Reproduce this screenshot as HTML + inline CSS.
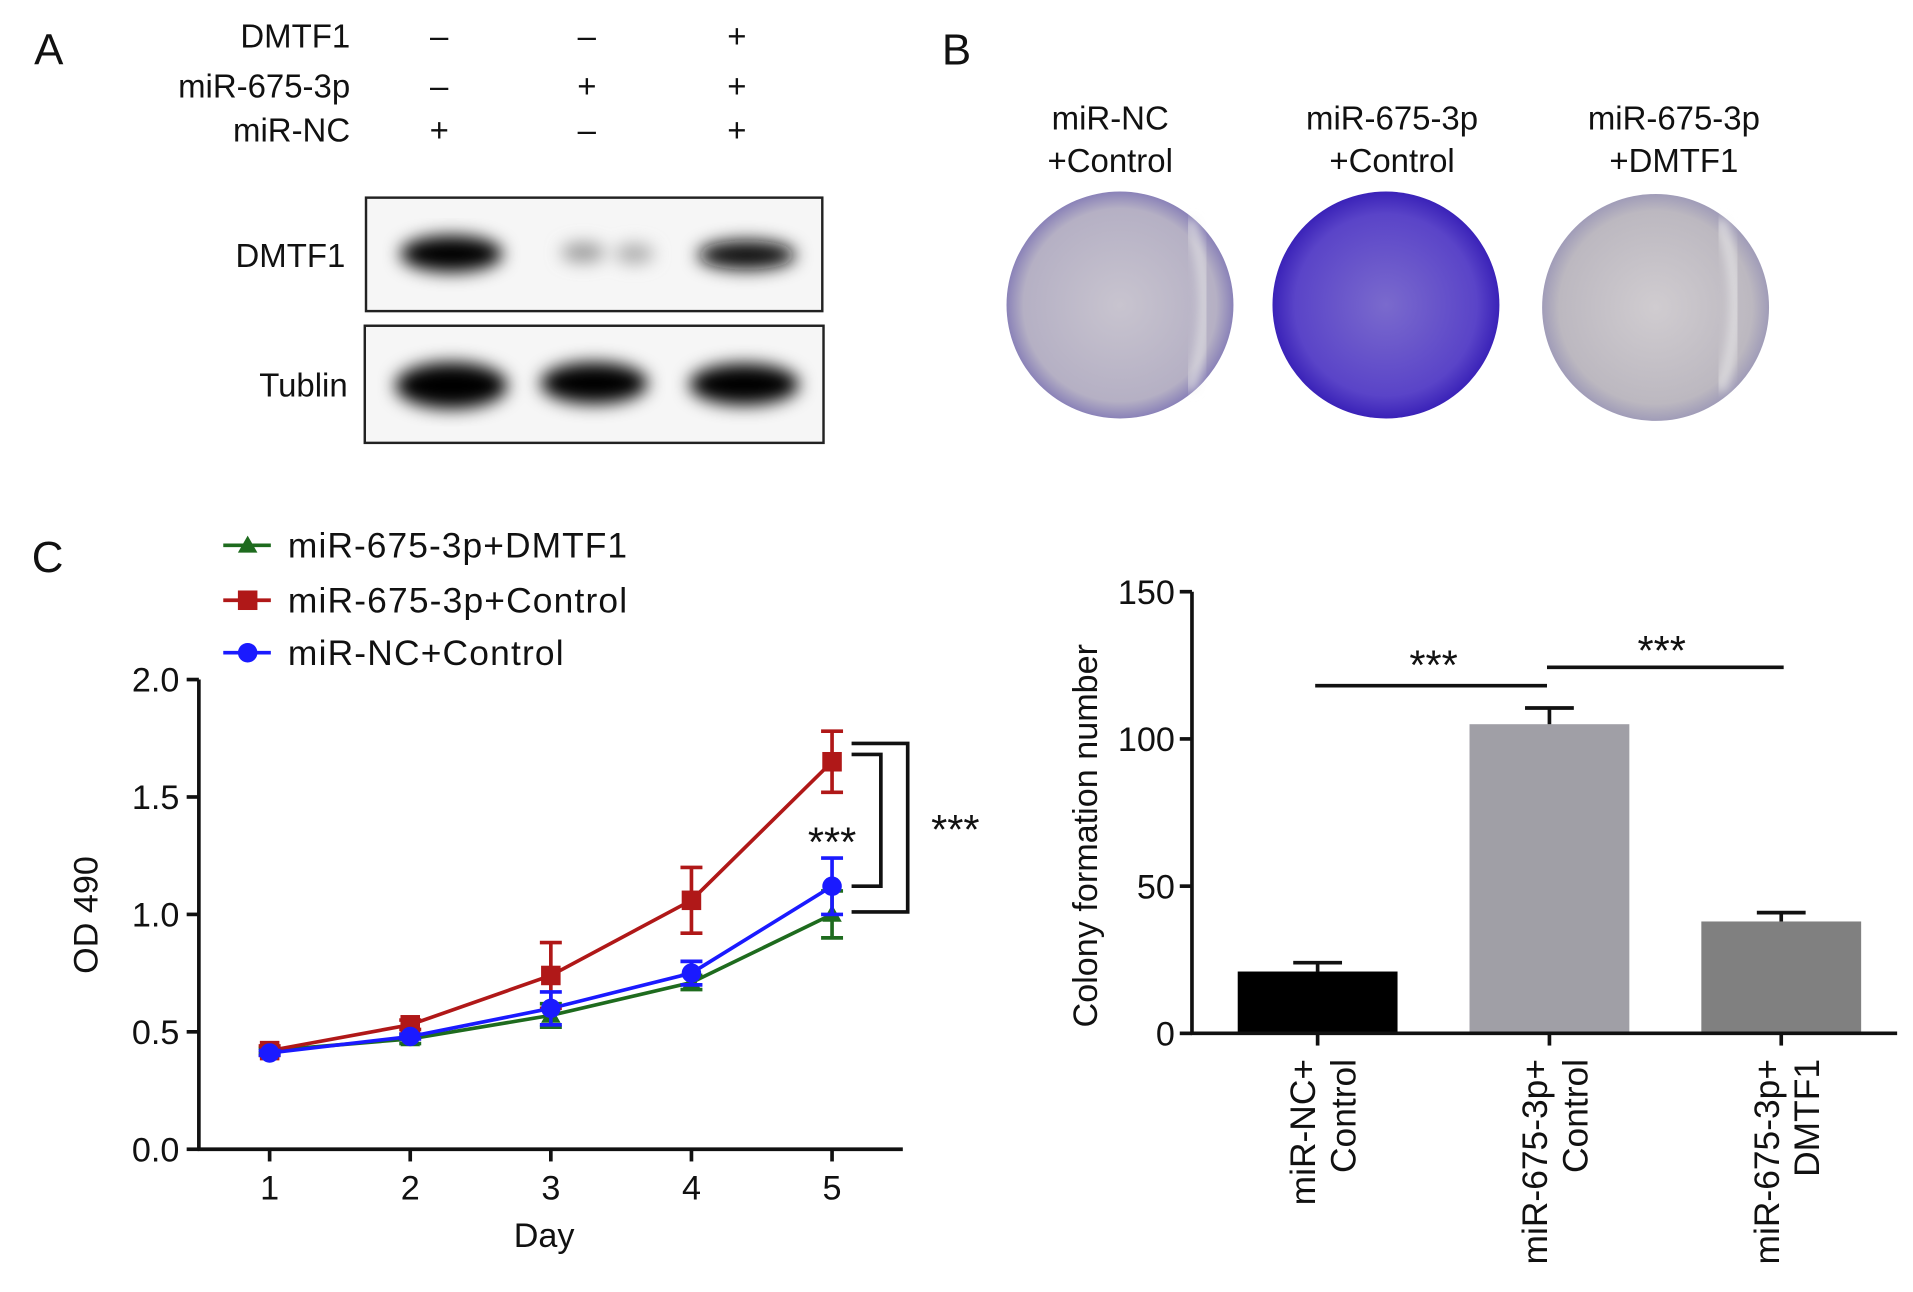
<!DOCTYPE html>
<html><head><meta charset="utf-8"><style>
html,body{margin:0;padding:0;background:#fff;}
svg{display:block;font-family:"Liberation Sans",Arial,sans-serif;}
</style></head><body>
<svg id="fig" width="1913" height="1292" viewBox="0 0 1568 1059" preserveAspectRatio="none" xmlns="http://www.w3.org/2000/svg">
<defs>
<filter id="blur"><feGaussianBlur stdDeviation="7"/></filter>
<filter id="blur2"><feGaussianBlur stdDeviation="4"/></filter>
<radialGradient id="dishA" cx="50%" cy="50%" r="50%"><stop offset="0" stop-color="#c8c4cf"/><stop offset="0.85" stop-color="#b5b0c4"/><stop offset="1" stop-color="#8a82b8"/></radialGradient>
<radialGradient id="dishB" cx="50%" cy="50%" r="50%"><stop offset="0" stop-color="#7a6acd"/><stop offset="0.8" stop-color="#5a44c8"/><stop offset="1" stop-color="#3a22b8"/></radialGradient>
<radialGradient id="dishC" cx="50%" cy="50%" r="50%"><stop offset="0" stop-color="#d0ccd0"/><stop offset="0.85" stop-color="#bcb8c0"/><stop offset="1" stop-color="#a09cb8"/></radialGradient>
</defs>
<g font-size="27" fill="#111">
<text x="28" y="53" font-size="36">A</text>
<text x="287" y="39" text-anchor="end">DMTF1</text>
<text x="287" y="80" text-anchor="end">miR-675-3p</text>
<text x="287" y="116" text-anchor="end">miR-NC</text>
<g text-anchor="middle">
<text x="360" y="39">–</text><text x="481" y="39">–</text><text x="604" y="39">+</text>
<text x="360" y="80">–</text><text x="481" y="80">+</text><text x="604" y="80">+</text>
<text x="360" y="116">+</text><text x="481" y="116">–</text><text x="604" y="116">+</text>
</g>
<rect x="300" y="162" width="374" height="93" fill="#f6f6f6" stroke="#222" stroke-width="2"/>
<rect x="299" y="267" width="376" height="96" fill="#f6f6f6" stroke="#222" stroke-width="2"/>
<g filter="url(#blur)">
<ellipse cx="370" cy="208" rx="42" ry="15" fill="#000"/>
<ellipse cx="478" cy="207" rx="18" ry="8" fill="#999"/>
<ellipse cx="520" cy="208" rx="16" ry="8" fill="#aaa"/>
<ellipse cx="612" cy="209" rx="40" ry="12" fill="#111"/>
<ellipse cx="370" cy="316" rx="46" ry="19" fill="#000"/>
<ellipse cx="487" cy="314" rx="44" ry="17" fill="#000"/>
<ellipse cx="610" cy="315" rx="45" ry="17" fill="#000"/>
</g>
<text x="283" y="219" text-anchor="end">DMTF1</text>
<text x="285" y="325" text-anchor="end">Tublin</text>
</g>
<g font-size="27" fill="#111" text-anchor="middle">
<text x="772" y="53" font-size="36" text-anchor="start">B</text>
<text x="910" y="106">miR-NC</text><text x="910" y="141">+Control</text>
<text x="1141" y="106">miR-675-3p</text><text x="1141" y="141">+Control</text>
<text x="1372" y="106">miR-675-3p</text><text x="1372" y="141">+DMTF1</text>
<circle cx="918" cy="250" r="93" fill="url(#dishA)"/>
<circle cx="1136" cy="250" r="93" fill="url(#dishB)"/>
<circle cx="1357" cy="252" r="93" fill="url(#dishC)"/>
<path d="M975,180 Q1000,250 975,320" stroke="#e8e8e8" stroke-width="10" fill="none" opacity="0.6" filter="url(#blur2)"/>
<path d="M1410,180 Q1435,250 1410,320" stroke="#eee" stroke-width="10" fill="none" opacity="0.6" filter="url(#blur2)"/>
</g>
<g id="lineChart" font-size="27" fill="#111">
<text x="26" y="469" font-size="36">C</text>
</g>
<g id="barChart" font-size="27" fill="#111"></g>
</svg>
<script>
const NS="http://www.w3.org/2000/svg";
function mk(parent,tag,attrs,text){const e=document.createElementNS(NS,tag);for(const k in attrs)e.setAttribute(k,attrs[k]);if(text!==undefined)e.textContent=text;parent.appendChild(e);return e;}

const days=[1,2,3,4,5];
const yTicks=[0.0,0.5,1.0,1.5,2.0];
const seriesNames=["miR-675-3p+DMTF1","miR-675-3p+Control","miR-NC+Control"];
const greenVals=[0.42,0.47,0.57,0.71,1.00];
const greenErr=[0.01,0.02,0.05,0.03,0.10];
const redVals=[0.42,0.53,0.74,1.06,1.65];
const redErr=[0.02,0.02,0.14,0.14,0.13];
const blueVals=[0.41,0.48,0.60,0.75,1.12];
const blueErr=[0.01,0.01,0.07,0.05,0.12];

const barCats=[["miR-NC+","Control"],["miR-675-3p+","Control"],["miR-675-3p+","DMTF1"]];
const barVals=[21,105,38];
const barErr=[3,5.5,3];
const barTicks=[0,50,100,150];

(function(){
const g=document.getElementById('lineChart');
const X0=163,Y0=942,Ytop=557,xEnd=740;
const xs=d=>221+(d-1)*115.25;
const ys=v=>Y0-(v/2)*(Y0-Ytop);
let a=mk(g,'line',{x1:X0,y1:Ytop,x2:X0,y2:Y0+1,stroke:'#111','stroke-width':3});


a=mk(g,'line',{x1:X0-1,y1:Y0,x2:xEnd,y2:Y0,stroke:'#111','stroke-width':3});


yTicks.forEach(t=>{
 mk(g,'line',{x1:X0-10,y1:ys(t),x2:X0,y2:ys(t),stroke:'#111','stroke-width':3});
 const tl=mk(g,'text',{x:X0-16,y:ys(t)+10,'text-anchor':'end','font-size':28},t.toFixed(1));
 
 
});
days.forEach(d=>{
 mk(g,'line',{x1:xs(d),y1:Y0,x2:xs(d),y2:Y0+10,stroke:'#111','stroke-width':3});
 const tl=mk(g,'text',{x:xs(d),y:Y0+41,'text-anchor':'middle','font-size':28},d);
 
 
});
let t=mk(g,'text',{x:446,y:1022,'text-anchor':'middle','font-size':28},'Day');


t=mk(g,'text',{x:0,y:0,'text-anchor':'middle','font-size':28,transform:'translate(80,750) rotate(-90)'},'OD 490');


const series=[[greenVals,greenErr,'#1e6b1e','tri'],[redVals,redErr,'#b01818','sq'],[blueVals,blueErr,'#1a1aff','circ']];
const legY=[447,492,535];
series.forEach((s,i)=>{
 const [vals,err,col,shape]=s;
 const sg=mk(g,'g',{});
 
 
 mk(sg,'polyline',{points:vals.map((v,j)=>xs(days[j])+','+ys(v)).join(' '),fill:'none',stroke:col,'stroke-width':3});
 vals.forEach((v,j)=>{
  const x=xs(days[j]);
  mk(sg,'line',{x1:x,y1:ys(v-err[j]),x2:x,y2:ys(v+err[j]),stroke:col,'stroke-width':3});
  mk(sg,'line',{x1:x-9,y1:ys(v-err[j]),x2:x+9,y2:ys(v-err[j]),stroke:col,'stroke-width':3});
  mk(sg,'line',{x1:x-9,y1:ys(v+err[j]),x2:x+9,y2:ys(v+err[j]),stroke:col,'stroke-width':3});
  drawMarker(sg,shape,x,ys(v),col);
 });
 const lg=mk(g,'g',{});
 
 
 mk(lg,'line',{x1:183,y1:legY[i],x2:222,y2:legY[i],stroke:col,'stroke-width':3});
 drawMarker(lg,shape,203,legY[i],col);
 mk(lg,'text',{x:236,y:legY[i]+10,'font-size':29,textLength:[278,278,226][i]},seriesNames[i]);
});
function drawMarker(p,shape,x,y,col){
 if(shape==='sq')mk(p,'rect',{x:x-8,y:y-8,width:16,height:16,fill:col});
 else if(shape==='circ')mk(p,'circle',{cx:x,cy:y,r:8,fill:col});
 else mk(p,'polygon',{points:`${x},${y-8} ${x+8},${y+6} ${x-8},${y+6}`,fill:col});
}
const x5=xs(5);
const br=mk(g,'g',{fill:'none',stroke:'#111','stroke-width':3});


mk(br,'polyline',{points:`${x5+16},${ys(redVals[4])-6} ${x5+40},${ys(redVals[4])-6} ${x5+40},${ys(blueVals[4])} ${x5+16},${ys(blueVals[4])}`});
mk(br,'polyline',{points:`${x5+16},${ys(redVals[4]+redErr[4])+10} ${x5+62},${ys(redVals[4]+redErr[4])+10} ${x5+62},${ys(greenVals[4])-2} ${x5+16},${ys(greenVals[4])-2}`});
t=mk(g,'text',{x:x5,y:702,'text-anchor':'middle','font-size':34},'***');


t=mk(g,'text',{x:783,y:692,'text-anchor':'middle','font-size':34},'***');


})();

(function(){
const g=document.getElementById('barChart');
const X0=977,Y0=847,Ytop=485,xEnd=1555;
const ys=v=>Y0-(v/150)*(Y0-Ytop);
const centers=[1080,1270,1460];
const bw=131;
const cols=['#000','#a09fa6','#808080'];
barVals.forEach((v,i)=>{
 const c=centers[i];
 const r=mk(g,'rect',{x:c-bw/2,y:ys(v),width:bw,height:Y0-ys(v),fill:cols[i]});
 
 
 mk(g,'line',{x1:c,y1:ys(v),x2:c,y2:ys(v+barErr[i]),stroke:'#111','stroke-width':3});
 mk(g,'line',{x1:c-20,y1:ys(v+barErr[i]),x2:c+20,y2:ys(v+barErr[i]),stroke:'#111','stroke-width':3});
 mk(g,'line',{x1:c,y1:Y0,x2:c,y2:Y0+10,stroke:'#111','stroke-width':3});
 const lg=mk(g,'g',{'font-size':29});
 
 
 mk(lg,'text',{x:0,y:0,'text-anchor':'end',transform:`translate(${c-2},868) rotate(-90)`},barCats[i][0]);
 mk(lg,'text',{x:0,y:0,'text-anchor':'end',transform:`translate(${c+31},868) rotate(-90)`},barCats[i][1]);
});
let a=mk(g,'line',{x1:X0,y1:Ytop,x2:X0,y2:Y0+1,stroke:'#111','stroke-width':3});


a=mk(g,'line',{x1:X0-1,y1:Y0,x2:xEnd,y2:Y0,stroke:'#111','stroke-width':3});


barTicks.forEach(t=>{
 mk(g,'line',{x1:X0-10,y1:ys(t),x2:X0,y2:ys(t),stroke:'#111','stroke-width':3});
 const tl=mk(g,'text',{x:X0-14,y:ys(t)+10,'text-anchor':'end','font-size':28},t);
 
 
});
let t=mk(g,'text',{x:0,y:0,'text-anchor':'middle','font-size':28,transform:'translate(899,685) rotate(-90)'},'Colony formation number');


const sg=mk(g,'g',{stroke:'#111','stroke-width':3});


mk(sg,'line',{x1:1078,y1:562,x2:1268,y2:562});
mk(sg,'line',{x1:1268,y1:547,x2:1462,y2:547});
t=mk(g,'text',{x:1175,y:557,'text-anchor':'middle','font-size':34},'***');


t=mk(g,'text',{x:1362,y:545,'text-anchor':'middle','font-size':34},'***');


})();
</script>
</body></html>
